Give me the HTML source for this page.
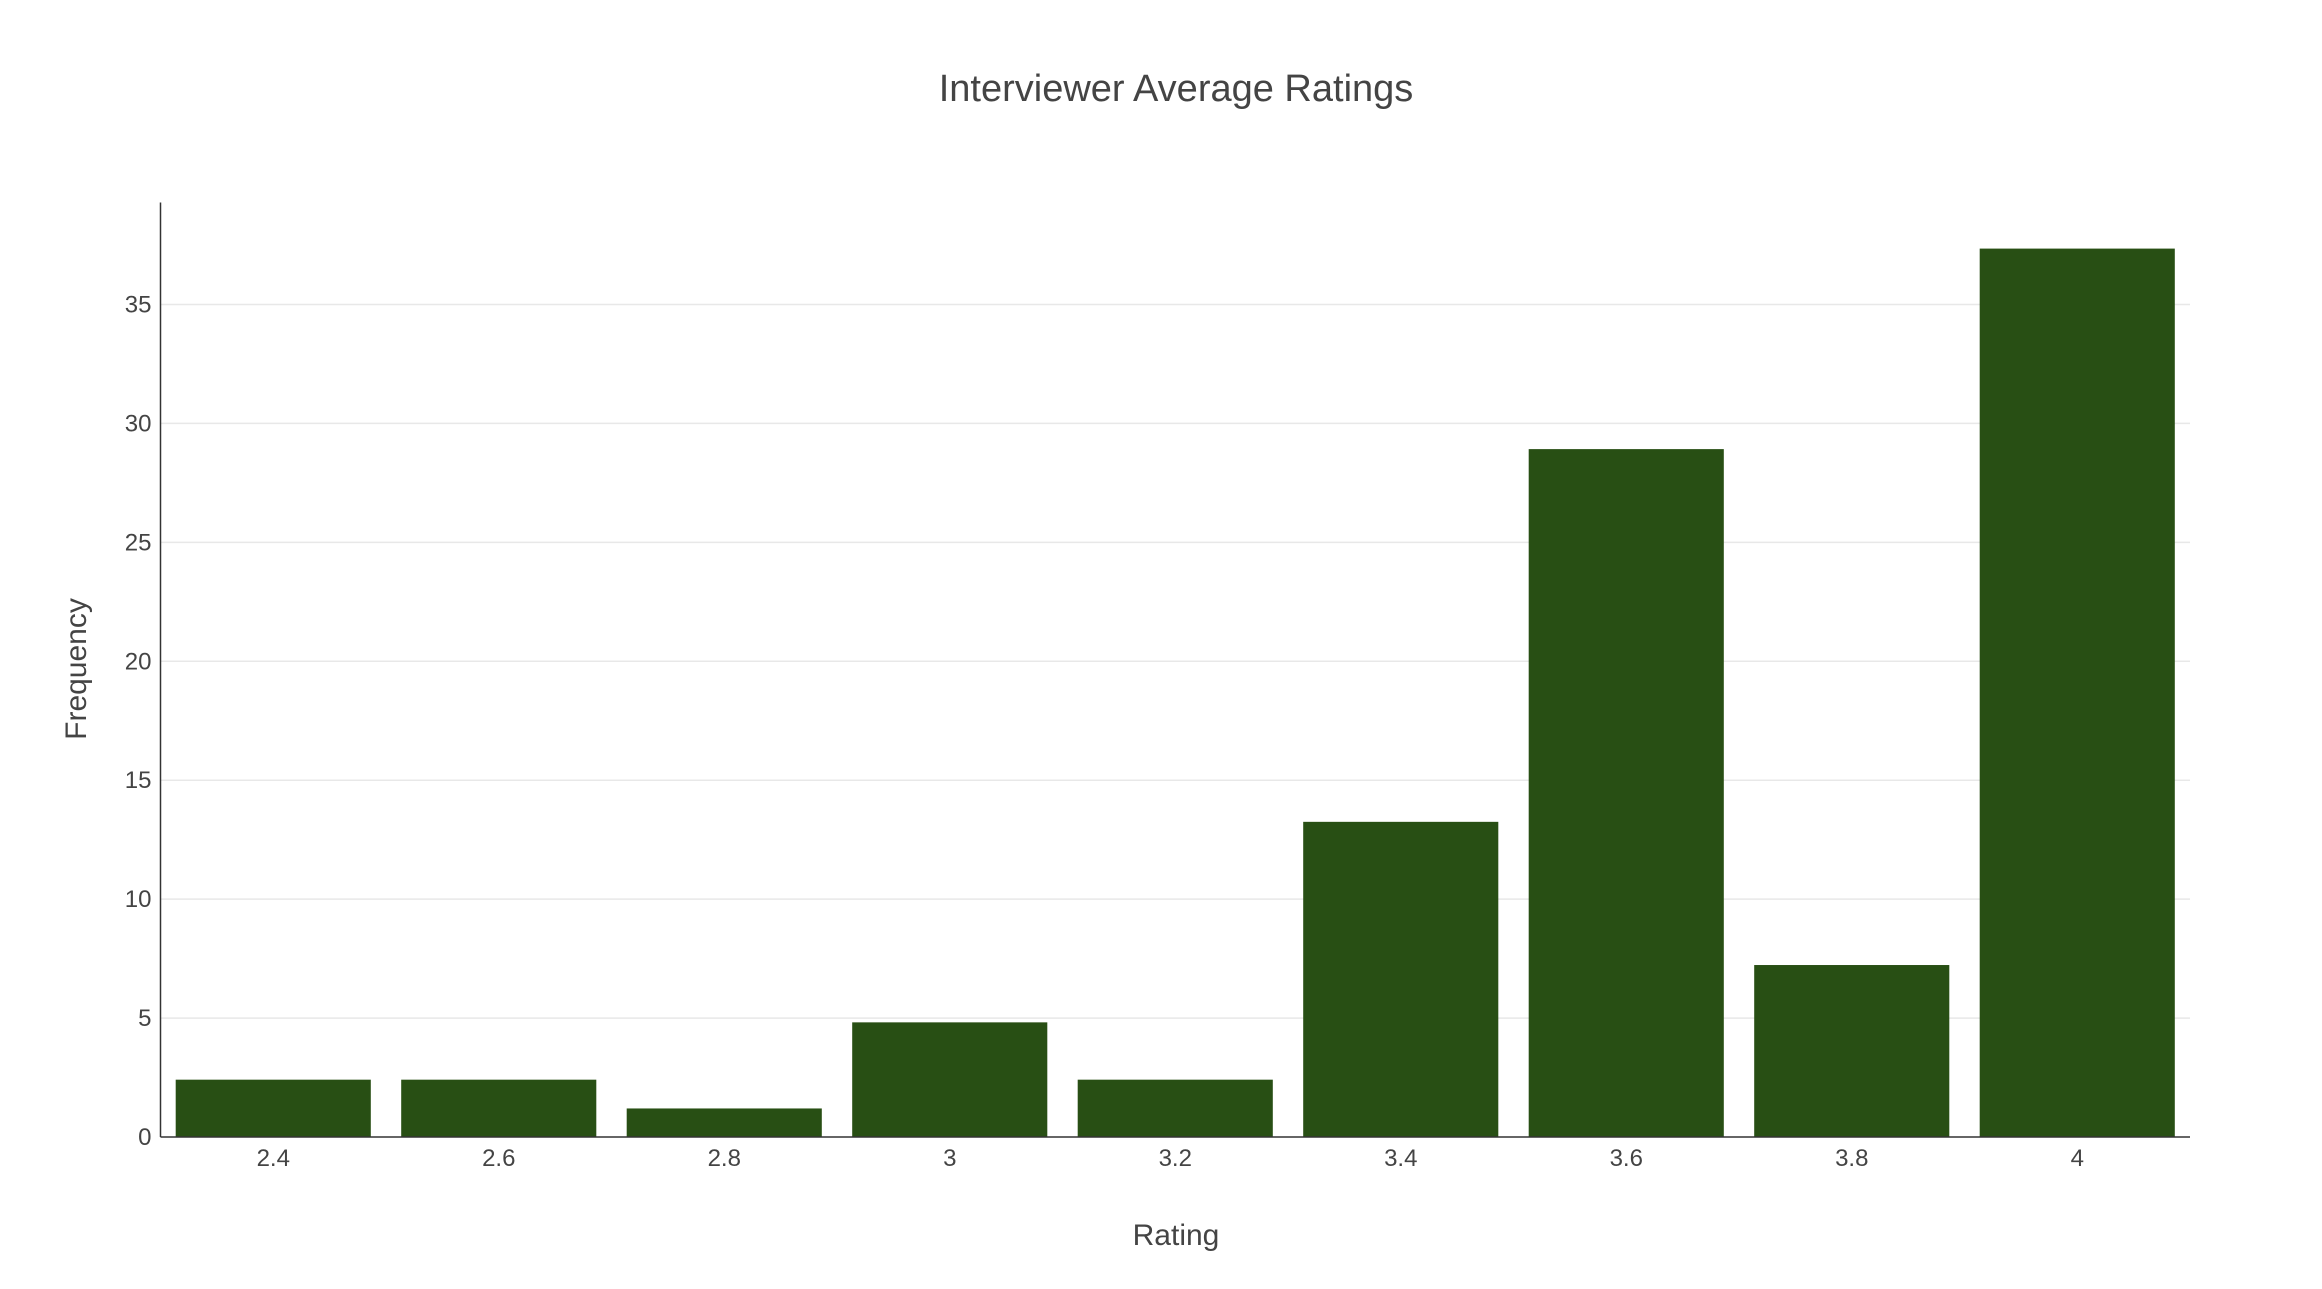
<!DOCTYPE html>
<html><head><meta charset="utf-8"><style>
body{margin:0;background:#fff;}
svg text{font-family:"Liberation Sans","DejaVu Sans",sans-serif;fill:#444;}
</style></head><body>
<svg id="chart" width="2322" height="1284" xmlns="http://www.w3.org/2000/svg">
<text x="1176" y="101" font-size="38" text-anchor="middle">Interviewer Average Ratings</text>
<g id="grid"></g><g id="bars"></g><g id="axes"></g>
<text x="1176" y="1245" font-size="30" text-anchor="middle">Rating</text>
<text x="0" y="0" font-size="30" text-anchor="middle" transform="translate(86,669) rotate(-90)">Frequency</text>
</svg>
<script>
const categories=[2.4,2.6,2.8,3.0,3.2,3.4,3.6,3.8,4.0];
const values=[2.41,2.41,1.2,4.82,2.41,13.25,28.92,7.23,37.35];
const yTicks=[0,5,10,15,20,25,30,35];
const xTickLabels=["2.4","2.6","2.8","3","3.2","3.4","3.6","3.8","4"];
const NS="http://www.w3.org/2000/svg";
const L=160.5,R=2190,T=202.5,B=1137;
const xMin=2.3,xMax=4.1,yPer=23.786;
const xs=v=>L+(v-xMin)/(xMax-xMin)*(R-L);
const ys=v=>B-v*yPer;
function mk(tag,attrs,parent){const e=document.createElementNS(NS,tag);for(const k in attrs)e.setAttribute(k,attrs[k]);parent.appendChild(e);return e;}
const grid=document.getElementById('grid'),bars=document.getElementById('bars'),axes=document.getElementById('axes');
yTicks.forEach(t=>{
 if(t>0){const g=mk('line',{x1:L,x2:R,y1:ys(t),y2:ys(t),stroke:'#e8e8e8','stroke-width':1.5},grid);
 
 }
 const tx=mk('text',{x:L-9,y:ys(t)+8,'font-size':24,'text-anchor':'end'},axes);tx.textContent=t;
 
 
});
const step=0.2,bw=(xs(step)-xs(0))*130/150.25;
categories.forEach((c,i)=>{
 const r=mk('rect',{x:xs(c)-bw/2,y:ys(values[i]),width:bw,height:B-ys(values[i]),fill:'#284f14'},bars);
 
 
 const tx=mk('text',{x:xs(c),y:1166,'font-size':24,'text-anchor':'middle'},axes);tx.textContent=xTickLabels[i];
 
 
});
const ya=mk('line',{x1:L,x2:L,y1:T,y2:B,stroke:'#333','stroke-width':1.5},axes);


const xa=mk('line',{x1:L,x2:R,y1:B,y2:B,stroke:'#333','stroke-width':1.5},axes);


</script>
</body></html>
